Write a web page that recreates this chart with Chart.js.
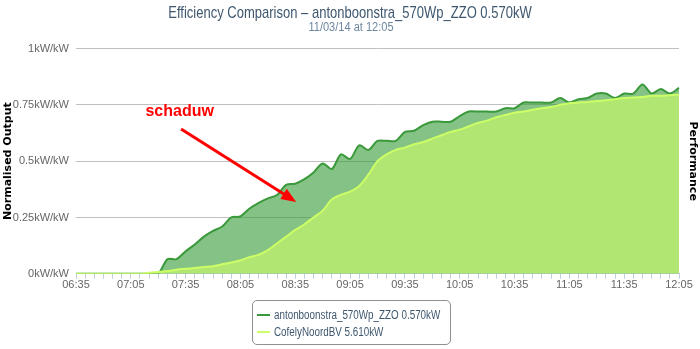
<!DOCTYPE html>
<html>
<head>
<meta charset="utf-8">
<script src="https://cdn.jsdelivr.net/npm/chart.js@4"></script>
<style>
html, body { margin: 0; padding: 0; background: #fff; }
#wrap { position: relative; width: 700px; height: 349px; }
#legend {
  position: absolute; left: 252px; top: 300px; width: 199px; height: 45px;
  border: 1px solid #909090; border-radius: 5px; box-sizing: border-box;
  font: 12px 'Liberation Sans', Arial, sans-serif; color: #3e576f;
}
#legend .item { position: absolute; left: 4px; height: 14px; line-height: 14px; white-space: nowrap; }
#legend .item i { display: inline-block; width: 13px; height: 2px; vertical-align: middle; margin-right: 4px; }
#legend .item span { display: inline-block; vertical-align: middle; transform: scaleX(0.82); transform-origin: left center; }
</style>
</head>
<body>
<div id="wrap">
  <canvas id="c" width="700" height="349"></canvas>
  <div id="legend"></div>
</div>
<script>
var times = ['06:35','06:40','06:45','06:50','06:55','07:00','07:05','07:10','07:15','07:20','07:25','07:30',
  '07:35','07:40','07:45','07:50','07:55','08:00','08:05','08:10','08:15','08:20','08:25','08:30',
  '08:35','08:40','08:45','08:50','08:55','09:00','09:05','09:10','09:15','09:20','09:25','09:30',
  '09:35','09:40','09:45','09:50','09:55','10:00','10:05','10:10','10:15','10:20','10:25','10:30',
  '10:35','10:40','10:45','10:50','10:55','11:00','11:05','11:10','11:15','11:20','11:25','11:30',
  '11:35','11:40','11:45','11:50','11:55','12:00','12:05'];

var antonName = 'antonboonstra_570Wp_ZZO 0.570kW';
var antonOutput = [0,0,0,0,0,0,0,0,0,0,0.065,0.065,
  0.10,0.13,0.165,0.19,0.21,0.25,0.255,0.29,0.315,0.335,0.35,0.395,
  0.40,0.42,0.45,0.49,0.465,0.53,0.51,0.57,0.55,0.59,0.59,0.59,
  0.63,0.635,0.66,0.675,0.675,0.675,0.70,0.72,0.72,0.72,0.72,0.735,
  0.735,0.76,0.76,0.76,0.76,0.78,0.76,0.775,0.78,0.80,0.80,0.78,
  0.80,0.80,0.84,0.80,0.82,0.80,0.825];

var cofelyName = 'CofelyNoordBV 5.610kW';
var cofelyOutput = [0,0,0,0,0,0,0,0,0.005,0.008,0.012,0.018,
  0.022,0.026,0.030,0.034,0.042,0.050,0.060,0.074,0.085,0.105,0.135,0.165,
  0.195,0.22,0.25,0.28,0.33,0.35,0.365,0.39,0.44,0.50,0.53,0.55,
  0.56,0.575,0.585,0.60,0.615,0.63,0.64,0.655,0.67,0.68,0.695,0.705,
  0.715,0.72,0.728,0.735,0.74,0.75,0.757,0.76,0.763,0.767,0.77,0.775,
  0.78,0.782,0.785,0.79,0.79,0.793,0.795];

var yTicks = [0, 0.25, 0.5, 0.75, 1];

var titleText = 'Efficiency Comparison \u2013 antonboonstra_570Wp_ZZO 0.570kW';
var subtitleText = '11/03/14 at 12:05';

// annotation, in data units (x = index into times, y = output)
var noteText = 'schaduw';
var noteAt = [7.6, 0.70];
var arrowFrom = [11.5, 0.643];
var arrowTo = [24.1, 0.319];

var SANS = "'Liberation Sans', Arial, sans-serif";
var darkLine = '#3a993a', darkFill = 'rgba(51,153,51,0.6)';
var lightLine = '#ccff66', lightFill = '#b2e672';

// narrow title: the original font is condensed, so squeeze the sans horizontally
function squeezedText(ctx, text, x, y, sx) {
  ctx.save();
  ctx.translate(x, y);
  ctx.scale(sx, 1);
  ctx.fillText(text, 0, 0);
  ctx.restore();
}

var headerPlugin = {
  id: 'header',
  afterDraw: function(chart) {
    var ctx = chart.ctx;
    ctx.save();
    ctx.textAlign = 'center';
    ctx.textBaseline = 'middle';
    ctx.fillStyle = '#3e576f';
    ctx.font = '17px ' + SANS;
    squeezedText(ctx, titleText, chart.width / 2, 13.5, 0.765);
    ctx.fillStyle = '#6d869f';
    ctx.font = '12px ' + SANS;
    squeezedText(ctx, subtitleText, chart.width / 2 + 1, 28, 0.92);
    ctx.restore();
  }
};

var notePlugin = {
  id: 'note',
  afterDatasetsDraw: function(chart) {
    var x = chart.scales.x, y = chart.scales.y, ctx = chart.ctx;
    ctx.save();
    ctx.fillStyle = '#f00';
    ctx.strokeStyle = '#f00';
    ctx.font = 'bold 16px ' + SANS;
    ctx.textBaseline = 'alphabetic';
    ctx.fillText(noteText, x.getPixelForValue(noteAt[0]), y.getPixelForValue(noteAt[1]));
    var x0 = x.getPixelForValue(arrowFrom[0]), y0 = y.getPixelForValue(arrowFrom[1]);
    var x1 = x.getPixelForValue(arrowTo[0]), y1 = y.getPixelForValue(arrowTo[1]);
    var a = Math.atan2(y1 - y0, x1 - x0);
    ctx.lineWidth = 3;
    ctx.beginPath();
    ctx.moveTo(x0, y0);
    ctx.lineTo(x1 - 10 * Math.cos(a), y1 - 10 * Math.sin(a));
    ctx.stroke();
    ctx.beginPath();
    ctx.moveTo(x1, y1);
    ctx.lineTo(x1 - 15 * Math.cos(a) + 6 * Math.sin(a), y1 - 15 * Math.sin(a) - 6 * Math.cos(a));
    ctx.lineTo(x1 - 15 * Math.cos(a) - 6 * Math.sin(a), y1 - 15 * Math.sin(a) + 6 * Math.cos(a));
    ctx.closePath();
    ctx.fill();
    ctx.restore();
  }
};

new Chart(document.getElementById('c'), {
  type: 'line',
  data: {
    labels: times,
    datasets: [
      { label: antonName, data: antonOutput, borderColor: darkLine, backgroundColor: darkFill,
        fill: 'origin', borderWidth: 2, pointRadius: 0, tension: 0.3, order: 2 },
      { label: cofelyName, data: cofelyOutput, borderColor: lightLine, backgroundColor: lightFill,
        fill: 'origin', borderWidth: 2, pointRadius: 0, tension: 0.3, order: 1 }
    ]
  },
  plugins: [notePlugin, headerPlugin],
  options: {
    responsive: false,
    animation: false,
    layout: { padding: { top: 48.5, bottom: 57, left: 0, right: 0 } },
    plugins: {
      legend: { display: false },
      tooltip: { enabled: false }
    },
    scales: {
      x: {
        grid: { drawOnChartArea: false, drawTicks: true, tickLength: 5, color: '#c0d0e0' },
        border: { color: '#c0d0e0' },
        ticks: {
          autoSkip: false, maxRotation: 0, padding: 0, color: '#666',
          font: { family: SANS, size: 11 },
          callback: function(v, i) { return i % 6 === 0 ? times[i] : ''; }
        }
      },
      y: {
        min: 0, max: 1,
        afterFit: function(s) { s.width = 76; },
        afterBuildTicks: function(s) { s.ticks = yTicks.map(function(v) { return { value: v }; }); },
        grid: { color: '#c0c0c0', drawTicks: false },
        border: { display: false },
        ticks: {
          padding: 7, color: '#666',
          font: { family: SANS, size: 11 },
          callback: function(v) { return v + 'kW/kW'; }
        },
        title: {
          display: true, text: 'Normalised Output', color: '#000',
          font: { family: 'DejaVu Sans', size: 11, weight: 'bold' },
          padding: { top: 1.5, bottom: 0 }
        }
      },
      y2: {
        type: 'linear', position: 'right', min: 0, max: 1,
        afterFit: function(s) { s.width = 21; },
        grid: { display: false },
        border: { display: false },
        ticks: { display: false },
        title: {
          display: true, text: 'Performance', color: '#000',
          font: { family: 'DejaVu Sans', size: 11, weight: 'bold' },
          padding: { top: 0.5, bottom: 0 }
        }
      }
    }
  }
});

var legendItems = [[antonName, darkLine], [cofelyName, lightLine]];
var legendEl = document.getElementById('legend');
legendItems.forEach(function(it, i) {
  var d = document.createElement('div');
  d.className = 'item';
  d.style.top = (6 + i * 17) + 'px';
  d.innerHTML = '<i style="background:' + it[1] + '"></i><span>' + it[0] + '</span>';
  legendEl.appendChild(d);
});
</script>
</body>
</html>
